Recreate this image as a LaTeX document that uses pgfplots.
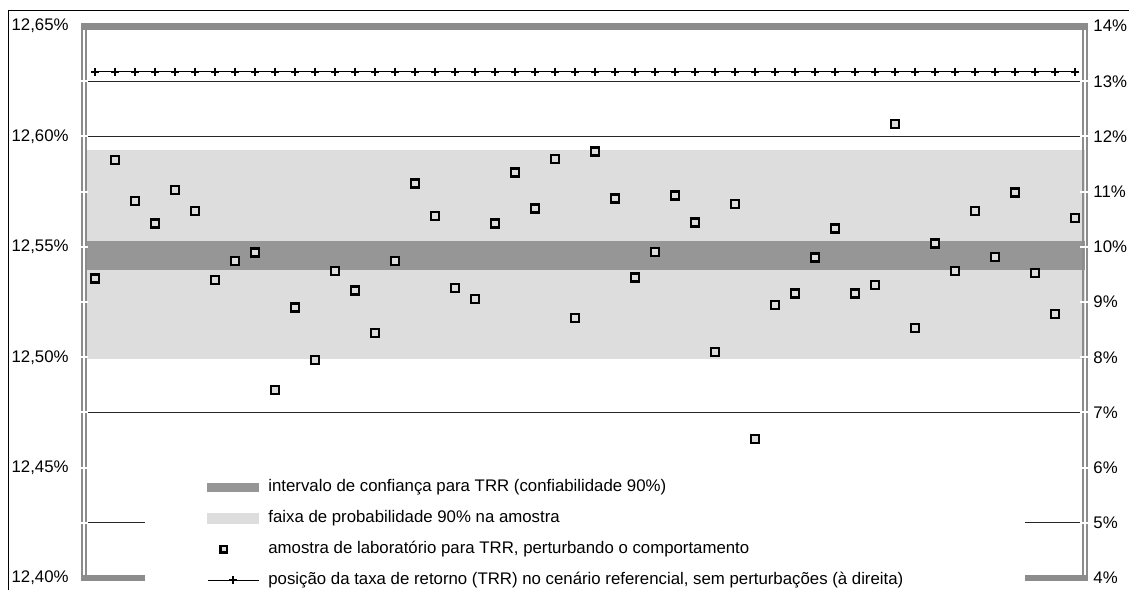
\documentclass[border=0pt]{standalone}
\usepackage{fontspec}
\setmainfont{Liberation Sans}
\usepackage{pgfplots}
\pgfplotsset{compat=1.18}
\definecolor{lightband}{HTML}{DDDDDD}
\definecolor{darkband}{HTML}{969696}
\definecolor{framegray}{HTML}{8C8C8C}
\newcommand{\pxc}[2]{({(#1)*0.5pt},{(589-(#2))*0.5pt})}
\newcommand{\lblfont}{\fontsize{8.4}{10}\selectfont}
\begin{document}
\begin{tikzpicture}
\path[use as bounding box] (0,0) rectangle (564.5pt,294.5pt);
\begin{axis}[
  at={(42.5pt,5.45pt)}, anchor=south west,
  scale only axis, width=500pt, height=276pt,
  xmin=0.5, xmax=50.5, ymin=12.40, ymax=12.65,
  axis line style={draw=none},
  xtick=\empty,
  ytick={12.40,12.45,12.50,12.55,12.60,12.65},
  yticklabels={{12,40\%},{12,45\%},{12,50\%},{12,55\%},{12,60\%},{12,65\%}},
  major tick length=0pt,
  yticklabel style={font=\lblfont, anchor=east, inner sep=0pt, xshift=-8pt},
  clip=false,
  legend cell align=left,
  legend style={at={(axis description cs:0.122,0.1795)}, anchor=north west,
    draw=none, fill=none, font=\lblfont, inner sep=0pt, row sep=7.7pt,
    nodes={inner sep=0pt, text height=6pt, text depth=1.8pt},
    /tikz/every odd column/.append style={column sep=4.5pt}},
]
% bands
\addplot[draw=none, fill=lightband, forget plot] coordinates {(0.5,12.4991) (50.5,12.4991) (50.5,12.5939) (0.5,12.5939)} -- cycle;
\addplot[draw=none, fill=darkband, forget plot] coordinates {(0.5,12.5397) (50.5,12.5397) (50.5,12.5527) (0.5,12.5527)} -- cycle;
% reference lines
\addplot[black!85, line width=0.55pt, forget plot] coordinates {(0.5,12.625) (50.5,12.625)};
\addplot[black!85, line width=0.55pt, forget plot] coordinates {(0.5,12.60) (50.5,12.60)};
\addplot[black!85, line width=0.55pt, forget plot] coordinates {(0.5,12.475) (50.5,12.475)};
\addplot[black!85, line width=0.55pt, forget plot] coordinates {(0.5,12.425) (3.5,12.425)};
\addplot[black!85, line width=0.55pt, forget plot] coordinates {(47.5,12.425) (50.5,12.425)};
% samples
\addplot[only marks, mark=square*, mark size=2pt, mark options={draw=black, fill=lightband, line width=1.25pt}, forget plot] table {
1 12.5358
2 12.5894
3 12.5709
4 12.5607
5 12.5758
6 12.5663
7 12.5349
8 12.5436
9 12.5474
10 12.4852
11 12.5225
12 12.4988
13 12.5391
14 12.5303
15 12.5111
16 12.5436
17 12.5788
18 12.5641
19 12.5314
20 12.5263
21 12.5607
22 12.5836
23 12.5673
24 12.5899
25 12.5179
26 12.5931
27 12.5720
28 12.5361
29 12.5477
30 12.5732
31 12.5610
32 12.5023
33 12.5694
34 12.4630
35 12.5236
36 12.5288
37 12.5451
38 12.5584
39 12.5288
40 12.5327
41 12.6057
42 12.5133
43 12.5515
44 12.5391
45 12.5663
46 12.5454
47 12.5747
48 12.5382
49 12.5197
50 12.5632
};
% legend
\addlegendimage{legend image code/.code={\path[draw=none,fill=none] (0pt,-2.25pt) rectangle (25.5pt,2.25pt); \fill[darkband] (0pt,-2.1pt) rectangle (25.5pt,2.1pt);}}
\addlegendentry{intervalo de confiança para TRR (confiabilidade 90\%)}
\addlegendimage{legend image code/.code={\path[draw=none,fill=none] (0pt,-2.25pt) rectangle (25.5pt,2.25pt); \fill[lightband] (0pt,-2.4pt) rectangle (25.5pt,2.4pt);}}
\addlegendentry{faixa de probabilidade 90\% na amostra}
\addlegendimage{legend image code/.code={\path[draw=none,fill=none] (0pt,-2.25pt) rectangle (25.5pt,2.25pt); \draw[black, fill=lightband, line width=1.2pt] (6.4pt,-1.6pt) rectangle (9.6pt,1.6pt);}}
\addlegendentry{amostra de laboratório para TRR, perturbando o comportamento}
\addlegendimage{legend image code/.code={\path[draw=none,fill=none] (0pt,-2.25pt) rectangle (25.5pt,2.25pt); \draw[black, line width=0.5pt] (0pt,0pt) -- (25.5pt,0pt); \draw[black, line width=1.1pt] (10.75pt,0pt) -- (14.75pt,0pt) (12.75pt,-2pt) -- (12.75pt,2pt);}}
\addlegendentry{posição da taxa de retorno (TRR) no cenário referencial, sem perturbações (à direita)}
\end{axis}
\begin{axis}[
  at={(42.5pt,5.45pt)}, anchor=south west,
  scale only axis, width=500pt, height=276pt,
  xmin=0.5, xmax=50.5, ymin=4, ymax=14,
  hide x axis, axis line style={draw=none},
  yticklabel pos=right,
  ytick={4,5,6,7,8,9,10,11,12,13,14},
  yticklabels={4\%,5\%,6\%,7\%,8\%,9\%,10\%,11\%,12\%,13\%,14\%},
  major tick length=0pt,
  yticklabel style={font=\lblfont, anchor=west, inner sep=0pt, xshift=4pt},
  clip=false,
]
\addplot[black, line width=0.5pt, mark=+, mark size=2pt, mark options={line width=1.1pt}] table {
1 13.17
2 13.17
3 13.17
4 13.17
5 13.17
6 13.17
7 13.17
8 13.17
9 13.17
10 13.17
11 13.17
12 13.17
13 13.17
14 13.17
15 13.17
16 13.17
17 13.17
18 13.17
19 13.17
20 13.17
21 13.17
22 13.17
23 13.17
24 13.17
25 13.17
26 13.17
27 13.17
28 13.17
29 13.17
30 13.17
31 13.17
32 13.17
33 13.17
34 13.17
35 13.17
36 13.17
37 13.17
38 13.17
39 13.17
40 13.17
41 13.17
42 13.17
43 13.17
44 13.17
45 13.17
46 13.17
47 13.17
48 13.17
49 13.17
50 13.17
};
\end{axis}
% outer border
\draw[black, line width=0.5pt] \pxc{8}{600} -- \pxc{8}{10.3} -- \pxc{1140}{10.3};
% axis frame
\fill[framegray] \pxc{81}{23.3} rectangle \pxc{1088}{30};
\draw[framegray, line width=1pt] \pxc{82}{24} -- \pxc{82}{580};
\draw[framegray, line width=1pt] \pxc{86}{30} -- \pxc{86}{575};
\draw[framegray, line width=1pt] \pxc{1087}{24} -- \pxc{1087}{580};
\draw[framegray, line width=1pt] \pxc{1082.5}{30} -- \pxc{1082.5}{575};
\fill[framegray] \pxc{81}{575} rectangle \pxc{145}{581};
\fill[framegray] \pxc{1025}{575} rectangle \pxc{1088}{581};
\foreach \k in {1,...,9} {
  \draw[white, line width=1pt] \pxc{79}{26.1+55.2*\k} -- \pxc{88}{26.1+55.2*\k};
  \draw[white, line width=1pt] \pxc{1080}{26.1+55.2*\k} -- \pxc{1090}{26.1+55.2*\k};
}
\end{tikzpicture}
\end{document}
